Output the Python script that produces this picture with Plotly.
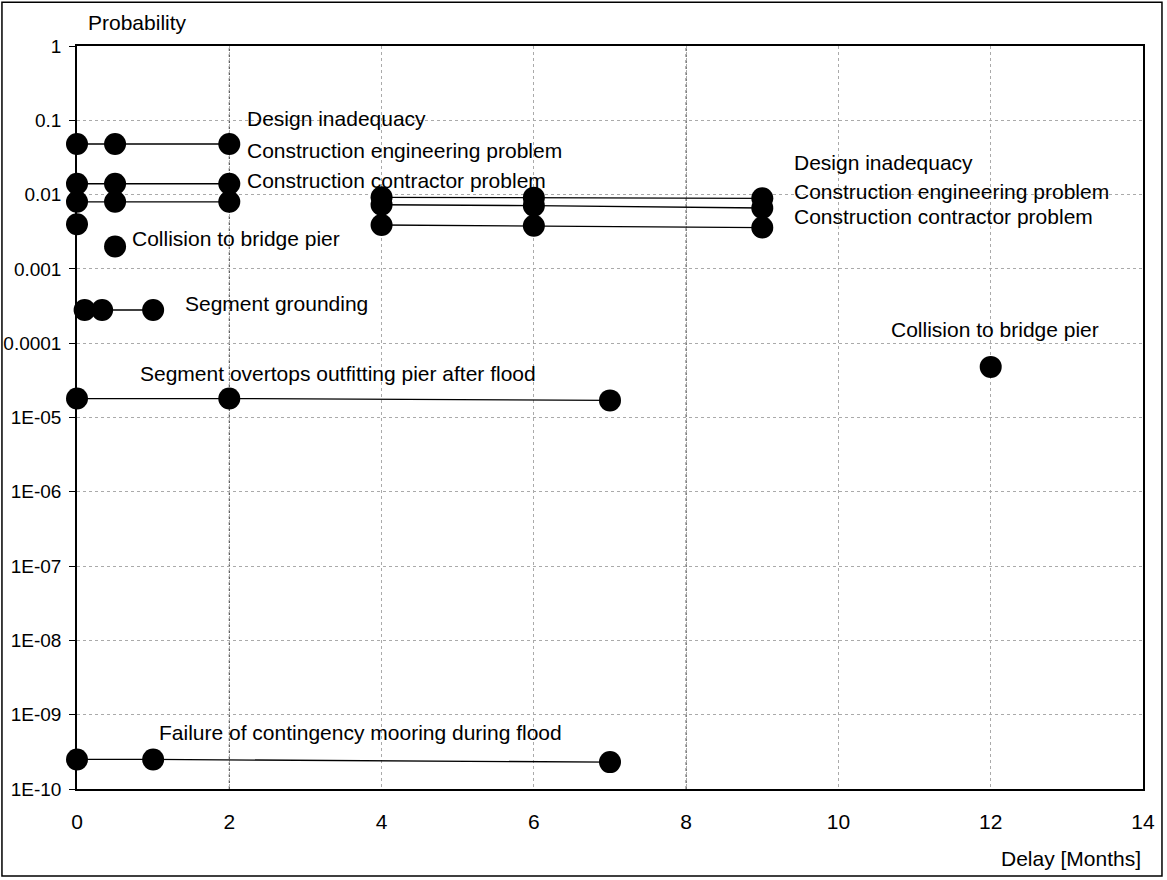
import plotly.graph_objects as go

# ---- data ----
delay_group1 = [0, 0.5, 2]
design_group1 = [0.048, 0.048, 0.048]
engineering_group1 = [0.014, 0.014, 0.014]
contractor_group1 = [0.008, 0.008, 0.008]

delay_group2 = [4, 6, 9]
design_group2 = [0.0092, 0.0091, 0.0089]
engineering_group2 = [0.0073, 0.0071, 0.0066]
contractor_group2 = [0.0039, 0.0038, 0.0036]

collision_delay = [0, 0.5, 12]
collision_prob = [0.004, 0.002, 4.8e-5]

grounding_delay = [0.1, 0.33, 1.0]
grounding_prob = [0.00028, 0.00028, 0.00028]

overtops_delay = [0, 2, 7]
overtops_prob = [1.8e-5, 1.8e-5, 1.7e-5]

mooring_delay = [0, 1, 7]
mooring_prob = [2.5e-10, 2.5e-10, 2.3e-10]

y_tickvals = [1, 0.1, 0.01, 0.001, 0.0001, 1e-5, 1e-6, 1e-7, 1e-8, 1e-9, 1e-10]
y_ticktext = ["1", "0.1", "0.01", "0.001", "0.0001", "1E-05", "1E-06", "1E-07",
              "1E-08", "1E-09", "1E-10"]
x_tickvals = [0, 2, 4, 6, 8, 10, 12, 14]

# label text with (x, log10 probability) anchor
label_texts = ["Design inadequacy", "Construction engineering problem",
               "Construction contractor problem", "Collision to bridge pier",
               "Segment grounding", "Design inadequacy",
               "Construction engineering problem", "Construction contractor problem",
               "Collision to bridge pier", "Segment overtops outfitting pier after flood",
               "Failure of contingency mooring during flood"]
label_x = [2.21, 2.21, 2.21, 0.70, 1.39, 9.39, 9.39, 9.39, 10.66, 0.80, 1.05]
label_logy = [-0.973, -1.404, -1.808, -2.588, -3.463, -1.565, -1.956, -2.292,
              -3.813, -4.405, -9.237]

FONT = "Liberation Sans, Arial, sans-serif"
FS = 21
TICK_FS = 19

fig = go.Figure()

line_series = [
    (delay_group1, design_group1), (delay_group1, engineering_group1),
    (delay_group1, contractor_group1), (delay_group2, design_group2),
    (delay_group2, engineering_group2), (delay_group2, contractor_group2),
    (grounding_delay, grounding_prob), (overtops_delay, overtops_prob),
    (mooring_delay, mooring_prob),
]
for xs, ys in line_series:
    fig.add_trace(go.Scatter(
        x=xs, y=ys, mode="lines+markers",
        line=dict(color="black", width=1.3),
        marker=dict(color="black", size=22),
        cliponaxis=False, showlegend=False))

fig.add_trace(go.Scatter(
    x=collision_delay, y=collision_prob, mode="markers",
    marker=dict(color="black", size=22),
    cliponaxis=False, showlegend=False))

annotations = []
for t, lx, ly in zip(label_texts, label_x, label_logy):
    annotations.append(dict(
        x=lx, y=ly, xref="x", yref="y", text=t, showarrow=False,
        xanchor="left", yanchor="middle",
        font=dict(family=FONT, size=FS, color="black")))

annotations.append(dict(
    x=0.0084, y=1.031, xref="paper", yref="paper", text="Probability",
    showarrow=False, xanchor="left", yanchor="middle",
    font=dict(family=FONT, size=FS, color="black")))
annotations.append(dict(
    x=1.0, y=-0.093, xref="paper", yref="paper", text="Delay [Months]",
    showarrow=False, xanchor="right", yanchor="middle",
    font=dict(family=FONT, size=FS, color="black")))

shapes = [
    # outer frame around the whole chart
    dict(type="rect", xref="paper", yref="paper",
         x0=-0.0704, x1=1.0178, y0=-0.117, y1=1.0588,
         line=dict(color="black", width=1.5), fillcolor="rgba(0,0,0,0)",
         layer="below"),
]
# darker vertical gridlines at 2 and 8
for gx in [2, 8]:
    shapes.append(dict(type="line", xref="x", yref="paper", x0=gx, x1=gx,
                       y0=0, y1=1, line=dict(color="#333", width=1, dash="dot"),
                       layer="below"))

fig.update_layout(
    width=1167, height=880,
    margin=dict(l=77, r=24, t=46, b=91, autoexpand=False),
    paper_bgcolor="white", plot_bgcolor="white",
    font=dict(family=FONT, size=FS, color="black"),
    annotations=annotations, shapes=shapes,
    showlegend=False,
)
fig.update_xaxes(
    range=[0, 14], tickvals=x_tickvals, ticktext=[str(v) for v in x_tickvals],
    showline=True, linecolor="black", linewidth=1.5, mirror=True,
    showgrid=True, gridcolor="#aaa", griddash="dot", gridwidth=1,
    zeroline=False, ticks="", ticklabelstandoff=13, automargin=False,
    tickfont=dict(family=FONT, size=FS, color="black"))
fig.update_yaxes(
    type="log", range=[-10, 0], tickvals=y_tickvals, ticktext=y_ticktext,
    showline=True, linecolor="black", linewidth=1.5, mirror=True,
    showgrid=True, gridcolor="#aaa", griddash="dot", gridwidth=1,
    zeroline=False, ticks="outside", ticklen=6, tickcolor="black",
    ticklabelstandoff=4, automargin=False,
    tickfont=dict(family=FONT, size=TICK_FS, color="black"))

fig.write_html("out.html", config={"displayModeBar": False},
               post_script="document.body.style.margin='0';document.body.style.padding='0';")
